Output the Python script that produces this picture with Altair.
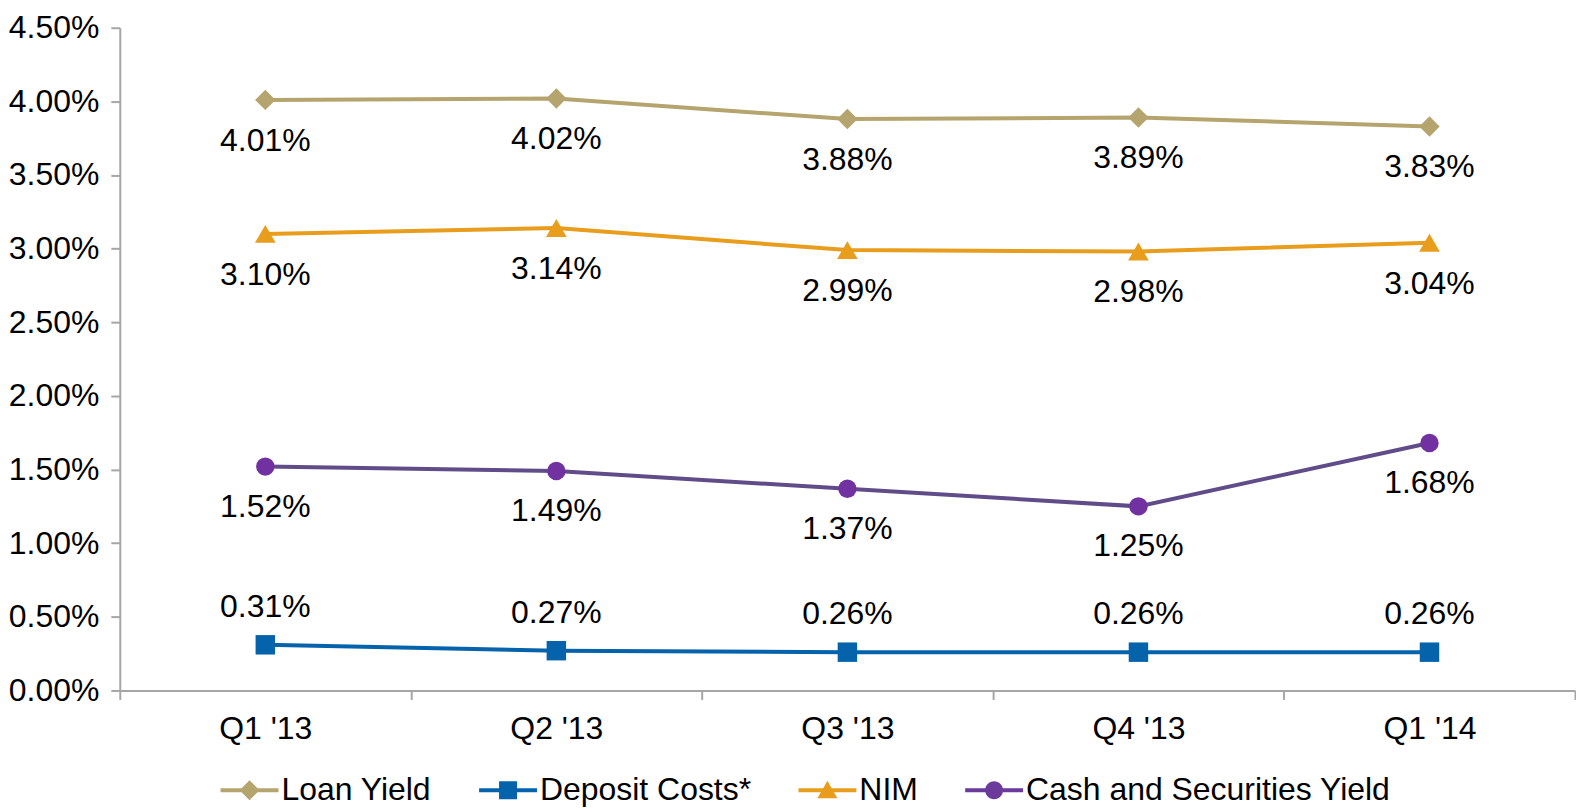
import altair as alt
import pandas as pd

# ---- data ----
quarters = ["Q1 '13", "Q2 '13", "Q3 '13", "Q4 '13", "Q1 '14"]
series_names = ["Loan Yield", "Deposit Costs*", "NIM", "Cash and Securities Yield"]
loan_yield = [4.01, 4.02, 3.88, 3.89, 3.83]
deposit_costs = [0.31, 0.27, 0.26, 0.26, 0.26]
nim = [3.10, 3.14, 2.99, 2.98, 3.04]
cash_securities_yield = [1.52, 1.49, 1.37, 1.25, 1.68]
y_tick_values = [0.0, 0.5, 1.0, 1.5, 2.0, 2.5, 3.0, 3.5, 4.0, 4.5]

series_values = [loan_yield, deposit_costs, nim, cash_securities_yield]
rows = []
for name, vals in zip(series_names, series_values):
    for q, v in zip(quarters, vals):
        rows.append({"quarter": q, "series": name, "value": v})
df = pd.DataFrame(rows)

# ---- styles ----
FONT = "Liberation Sans"
FS = 32
AXIS_GRAY = "#A6A6A6"
line_colors = ["#B5A46D", "#0563AB", "#E89D1C", "#604C88"]
marker_colors = ["#B5A46D", "#0563AB", "#E89D1C", "#7131A1"]
marker_shapes = ["diamond", "square", "triangle-up", "circle"]
marker_sizes = [420, 380, 430, 340]
label_dy = [41, -38, 41, 40]

# legend symbols: a line stub with the marker in its middle (unit = 10px at size 400)
legend_paths = [
    "M-1,-0.2L4.8,-0.2L4.8,0.2L-1,0.2Z M0.9,0L1.9,-1L2.9,0L1.9,1Z",
    "M-1,-0.2L4.8,-0.2L4.8,0.2L-1,0.2Z M1.0,-0.9L2.8,-0.9L2.8,0.9L1.0,0.9Z",
    "M-1,-0.2L4.8,-0.2L4.8,0.2L-1,0.2Z M1.9,-0.95L2.9,0.8L0.9,0.8Z",
    "M-1,-0.2L4.8,-0.2L4.8,0.2L-1,0.2Z M1.0,0A0.9,0.9 0 1,1 2.8,0A0.9,0.9 0 1,1 1.0,0Z",
]
legend_colors = ["#B5A46D", "#0563AB", "#E89D1C", "#6B3A9A"]

x_enc = alt.X(
    "quarter:N",
    sort=quarters,
    bandPosition=0.5,
    scale=alt.Scale(type="band", domain=quarters, paddingInner=0, paddingOuter=0),
    axis=alt.Axis(
        title=None, labelAngle=0, tickBand="extent", labelFont=FONT, labelFontSize=FS,
        labelColor="#000000", domainColor=AXIS_GRAY, domainWidth=2, tickColor=AXIS_GRAY,
        tickWidth=2, tickSize=9, labelPadding=14, grid=False,
    ),
)
y_enc = alt.Y(
    "value:Q",
    scale=alt.Scale(domain=[0, 4.5], nice=False, zero=True),
    axis=alt.Axis(
        title=None, values=y_tick_values, labelExpr="format(datum.value, '.2f') + '%'",
        labelFont=FONT, labelFontSize=FS, labelColor="#000000", domainColor=AXIS_GRAY,
        domainWidth=2, tickColor=AXIS_GRAY, tickWidth=2, tickSize=9, labelPadding=12,
        grid=False,
    ),
)

layers = []
for i, name in enumerate(series_names):
    base = alt.Chart(df).transform_filter(alt.datum.series == name)
    layers.append(base.mark_line(color=line_colors[i], strokeWidth=4).encode(x=x_enc, y=y_enc))
    layers.append(
        base.mark_point(shape=marker_shapes[i], filled=True, opacity=1, size=marker_sizes[i],
                        color=marker_colors[i]).encode(x=x_enc, y=y_enc)
    )
    layers.append(
        base.transform_calculate(label="format(datum.value, '.2f') + '%'")
        .mark_text(dy=label_dy[i], font=FONT, fontSize=FS, color="#000000")
        .encode(x=x_enc, y=y_enc, text="label:N")
    )

leg = alt.Legend(
    title=None, orient="none", legendX=95, legendY=748, direction="horizontal",
    labelFont=FONT, labelFontSize=FS, labelColor="#000000", symbolSize=400,
    symbolOpacity=1, symbolStrokeWidth=0, labelOffset=35, columnPadding=41, labelLimit=0,
)
legend_layer = alt.Chart(df).mark_point(filled=True, opacity=0, size=400).encode(
    x=x_enc,
    y=y_enc,
    color=alt.Color("series:N", scale=alt.Scale(domain=series_names, range=legend_colors), legend=leg),
    shape=alt.Shape("series:N", scale=alt.Scale(domain=series_names, range=legend_paths), legend=leg),
)
layers.append(legend_layer)

chart = (
    alt.layer(*layers)
    .properties(width=1458, height=664, padding={"left": 0, "top": 3, "right": 0, "bottom": 0},
                background="white")
    .configure_view(stroke=None)
)

chart.save("out.html", embed_options={"renderer": "svg", "actions": False})
